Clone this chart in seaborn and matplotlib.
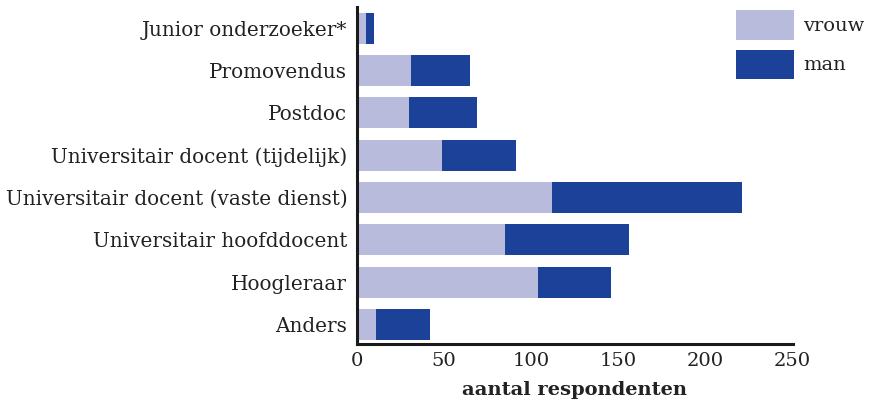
import matplotlib
matplotlib.use("Agg")
import matplotlib.pyplot as plt
import seaborn as sns
import pandas as pd
from matplotlib.patches import Patch

categories = ["Junior onderzoeker*", "Promovendus", "Postdoc",
              "Universitair docent (tijdelijk)",
              "Universitair docent (vaste dienst)",
              "Universitair hoofddocent", "Hoogleraar", "Anders"]
vrouw = [5, 31, 30, 49, 112, 85, 104, 11]
man = [5, 34, 39, 42, 109, 71, 42, 31]
xticks = [0, 50, 100, 150, 200, 250]

col_vrouw = "#b8bbdc"
col_man = "#1b4298"

sns.set_theme(style="white")
plt.rcParams['font.family'] = ['DejaVu Serif']

df = pd.DataFrame({"cat": categories, "vrouw": vrouw, "man": man})
df["totaal"] = df["vrouw"] + df["man"]

fig = plt.figure(figsize=(8.7, 4.04), dpi=100)
ax = fig.add_axes([357/870, 1-344/404, (792.7-357)/870, (344-7)/404])

sns.barplot(data=df, y="cat", x="totaal", color=col_man, orient="h",
            width=0.73, ax=ax, saturation=1, linewidth=0, edgecolor="none")
sns.barplot(data=df, y="cat", x="vrouw", color=col_vrouw, orient="h",
            width=0.73, ax=ax, saturation=1, linewidth=0, edgecolor="none")

ax.set_xlim(0, 250)
ax.set_ylim(7.46, -0.5)
ax.set_xticks(xticks)
ax.set_xticklabels([str(t) for t in xticks])
ax.set_ylabel("")
ax.set_xlabel("aantal respondenten", fontsize=14, fontweight="bold", labelpad=7.5,
              color="#222222")

for s in ["top", "right"]:
    ax.spines[s].set_visible(False)
for s in ["left", "bottom"]:
    ax.spines[s].set_color("#1a1a1a")
    ax.spines[s].set_linewidth(2.2)

ax.tick_params(axis="x", direction="in", length=7, width=1.8, color="#1a1a1a",
               labelsize=14, pad=6, labelcolor="#222222")
ax.tick_params(axis="y", length=0, labelsize=14.4, pad=7, labelcolor="#222222")

handles = [Patch(facecolor=col_vrouw, edgecolor="none"),
           Patch(facecolor=col_man, edgecolor="none")]
fs = 14
fs_px = fs * 100 / 72
hh = (29.5 / fs_px - 0.245) / 0.65
fig.legend(handles, ["vrouw", "man"], loc="upper left",
           bbox_to_anchor=(736/870, 1 - 10/404), frameon=False, fontsize=fs,
           handlelength=58/fs_px, handleheight=hh, handletextpad=9/fs_px,
           labelspacing=10/fs_px, borderpad=0, borderaxespad=0,
           labelcolor="#222222")

fig.savefig("out.png", dpi=100)
